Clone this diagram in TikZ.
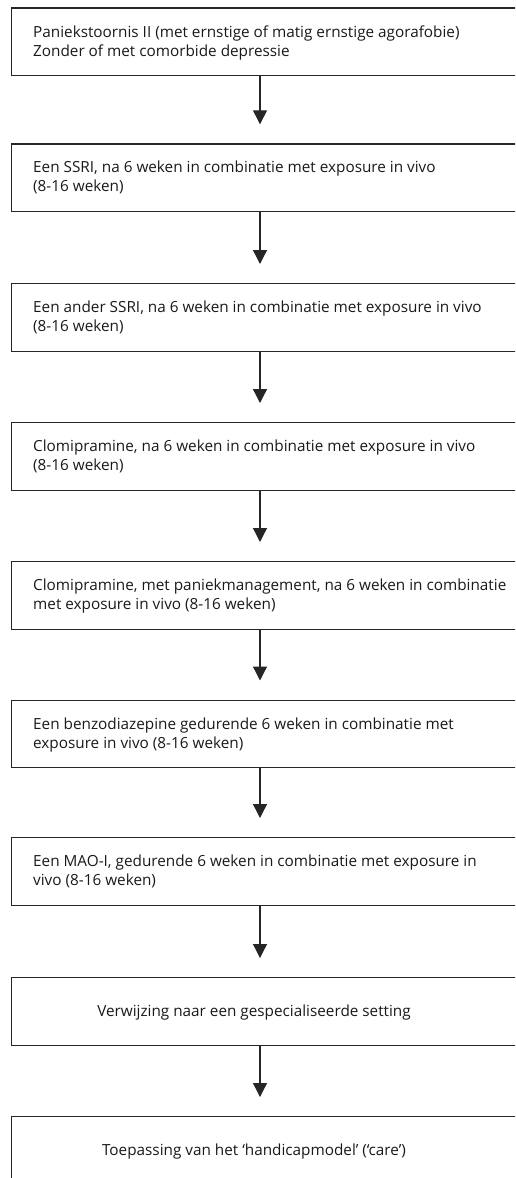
\documentclass[tikz,border=0pt]{standalone}
\usepackage{fontspec}
\setmainfont{Open Sans}
\usetikzlibrary{arrows.meta}
\newcommand{\boxlines}[1]{\parbox[t]{600pt}{\raggedright #1}}
\begin{document}
\begin{tikzpicture}[x=1pt,y=-1pt,
  stepbox/.style={draw=black!85, line width=1.3pt, rectangle, minimum width=520pt, minimum height=67.5pt, anchor=north west, inner sep=0pt},
  steptext/.style={anchor=base west, inner sep=0pt, font=\fontsize{15.3}{19}\selectfont, text=black!90},
  ctext/.style={anchor=base, inner sep=0pt, font=\fontsize{15.3}{19}\selectfont, text=black!90},
  flow/.style={draw=black!85, line width=1.3pt, -{Triangle[width=14pt,length=14pt]}, shorten >=19pt}]
\clip (0,0) rectangle (515,1178);
\coordinate (ax) at (260,0);
\node[stepbox] (b1) at (11,7.3) {};
\node[stepbox] (b2) at (11,143.3) {};
\node[stepbox] (b3) at (11,283) {};
\node[stepbox] (b4) at (11,422) {};
\node[stepbox] (b5) at (11,561) {};
\node[stepbox] (b6) at (11,699.5) {};
\node[stepbox] (b7) at (11,837) {};
\node[stepbox] (b8) at (11,977) {};
\node[stepbox] (b9) at (11,1116) {};
\node[steptext] (t1) at (33,37.3) {\boxlines{Paniekstoornis II (met ernstige of matig ernstige agorafobie)\\Zonder of met comorbide depressie}};
\node[steptext] (t2) at (33,172.5) {\boxlines{Een SSRI, na 6 weken in combinatie met exposure in vivo\\(8-16 weken)}};
\node[steptext] (t3) at (33,312.5) {\boxlines{Een ander SSRI, na 6 weken in combinatie met exposure in vivo\\(8-16 weken)}};
\node[steptext] (t4) at (33,451.5) {\boxlines{Clomipramine, na 6 weken in combinatie met exposure in vivo\\(8-16 weken)}};
\node[steptext] (t5) at (33,590.5) {\boxlines{Clomipramine, met paniekmanagement, na 6 weken in combinatie\\met exposure in vivo (8-16 weken)}};
\node[steptext] (t6) at (33,729) {\boxlines{Een benzodiazepine gedurende 6 weken in combinatie met\\exposure in vivo (8-16 weken)}};
\node[steptext] (t7) at (33,866.5) {\boxlines{Een MAO-I, gedurende 6 weken in combinatie met exposure in\\vivo (8-16 weken)}};
\node[ctext] (t8) at (254,1016) {Verwijzing naar een gespecialiseerde setting};
\node[ctext] (t9) at (254,1155) {Toepassing van het ‘handicapmodel’ (‘care’)};
\foreach \a/\b in {b1/b2,b2/b3,b3/b4,b4/b5,b5/b6,b6/b7,b7/b8,b8/b9}
  \draw[flow] (\a.south -| ax) -- (\b.north -| ax);
\end{tikzpicture}
\end{document}
